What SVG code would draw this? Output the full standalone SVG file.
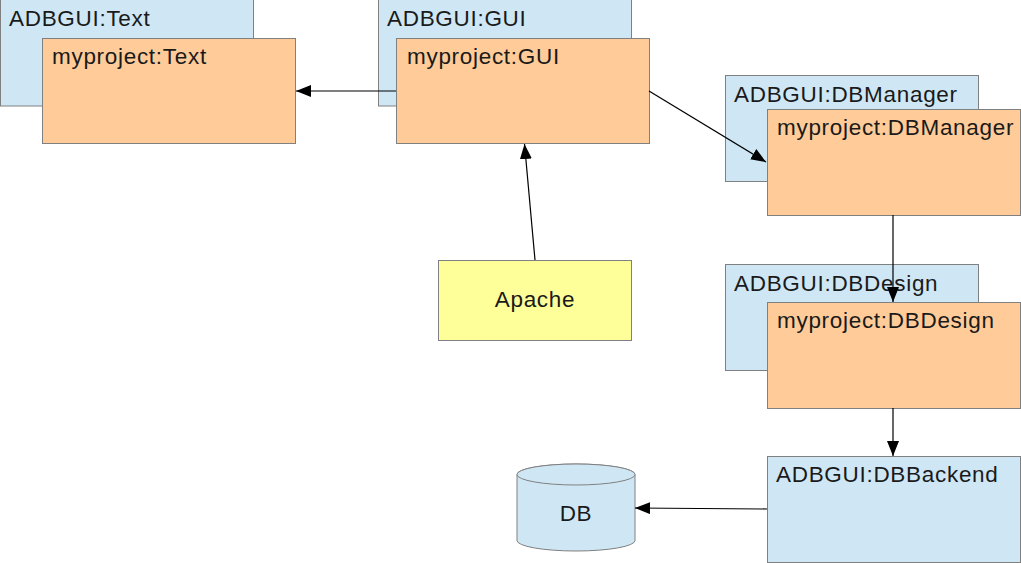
<svg xmlns="http://www.w3.org/2000/svg" width="1021" height="563" viewBox="0 0 1021 563">
<style>
  .blue { fill: #cfe7f5; stroke: #808080; stroke-width: 1; }
  .orange { fill: #ffcc99; stroke: #808080; stroke-width: 1; }
  .yellow { fill: #ffff99; stroke: #808080; stroke-width: 1; }
  text { font-family: "Liberation Sans", Arial, sans-serif; font-size: 22.5px; letter-spacing: 0.7px; fill: #1a1a1a; }
  .c { text-anchor: middle; }
  .conn line { stroke: #000; stroke-width: 1.2; fill: none; marker-end: url(#arr); }
</style>
<defs>
  <marker id="arr" markerUnits="userSpaceOnUse" markerWidth="16" markerHeight="12" viewBox="0 0 16 12" refX="15" refY="6" orient="auto">
    <path d="M0,0 L15,6 L0,12 Z" fill="#000"/>
  </marker>
</defs>
<rect width="1021" height="563" fill="#ffffff"/>
<g id="adbgui-text">
  <rect class="blue" x="0.5" y="-1" width="253" height="107"/>
  <text x="9" y="26">ADBGUI:Text</text>
</g>
<g id="myproject-text">
  <rect class="orange" x="42.5" y="38.5" width="253" height="105"/>
  <text x="52" y="64">myproject:Text</text>
</g>
<g id="adbgui-gui">
  <rect class="blue" x="378.5" y="-1" width="253" height="107"/>
  <text x="387" y="26">ADBGUI:GUI</text>
</g>
<g id="myproject-gui">
  <rect class="orange" x="396.5" y="38.5" width="253" height="105"/>
  <text x="407" y="64">myproject:GUI</text>
</g>
<g id="adbgui-dbmanager">
  <rect class="blue" x="725.5" y="75.5" width="253" height="106"/>
  <text x="734" y="102">ADBGUI:DBManager</text>
</g>
<g id="myproject-dbmanager">
  <rect class="orange" x="767.5" y="109.5" width="253" height="106"/>
  <text x="777" y="135">myproject:DBManager</text>
</g>
<g id="adbgui-dbdesign">
  <rect class="blue" x="725.5" y="264.5" width="253" height="106"/>
  <text x="734" y="291">ADBGUI:DBDesign</text>
</g>
<g id="myproject-dbdesign">
  <rect class="orange" x="767.5" y="302.5" width="253" height="106"/>
  <text x="777" y="328">myproject:DBDesign</text>
</g>
<g id="adbgui-dbbackend">
  <rect class="blue" x="767.5" y="456.5" width="253" height="106"/>
  <text x="776" y="482">ADBGUI:DBBackend</text>
</g>
<g id="apache">
  <rect class="yellow" x="438.5" y="260.5" width="193" height="80"/>
  <text class="c" x="535" y="307">Apache</text>
</g>
<g id="db">
  <path class="blue" d="M517,474.5 A59,10.5 0 0 1 635,474.5 V540.5 A59,10.5 0 0 1 517,540.5 Z"/>
  <ellipse class="blue" cx="576" cy="474.5" rx="59" ry="10.5"/>
  <text class="c" x="576" y="521">DB</text>
</g>
<g id="connectors" class="conn">
  <line x1="396" y1="91" x2="296" y2="91"/>
  <line x1="649" y1="91" x2="766" y2="162"/>
  <line x1="535" y1="260" x2="524.5" y2="144"/>
  <line x1="893" y1="215" x2="893" y2="302"/>
  <line x1="893" y1="408" x2="893" y2="456"/>
  <line x1="767" y1="509" x2="635" y2="508"/>
</g>
</svg>
